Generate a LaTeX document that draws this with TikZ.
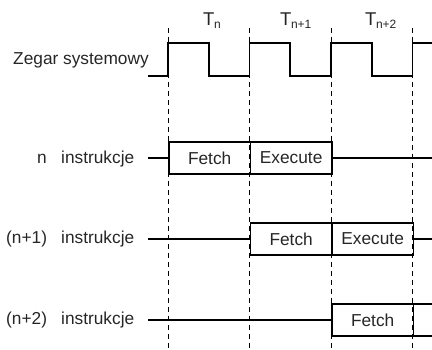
\documentclass[tikz,border=0pt]{standalone}
\usepackage{fontspec}
\setmainfont{Liberation Sans}
\newcommand{\Tsub}[1]{{\fontsize{18.5}{20}\selectfont T}\kern-0.5pt\raisebox{-3.5pt}{\fontsize{12}{12}\selectfont #1}}
\begin{document}
\begin{tikzpicture}[x=1pt,y=-1pt,
  every node/.style={font=\fontsize{17.3}{20}\selectfont, text=black!85},
  sig/.style={line width=1.8pt, line join=miter},
  grid/.style={line width=0.9pt, dash pattern=on 5pt off 4pt},
  phase/.style={draw, line width=1.8pt, minimum width=81.5pt, minimum height=32pt, inner sep=0pt, anchor=west},
  lab/.style={anchor=base west, inner sep=0pt}
]
\clip (0,0) rectangle (432,350);
% dashed cycle boundaries
\foreach \x/\n in {168/a,249.5/b,331/c,412.5/d}{
  \coordinate (top\n) at (\x,28);
  \coordinate (bot\n) at (\x,352);
  \draw[grid] (top\n) -- (bot\n);
}
% T labels
\node[lab] (Tn) at (203,25.5) {\Tsub{n}};
\node[lab] (Tn1) at (280,25.5) {\Tsub{n+1}};
\node[lab] (Tn2) at (365,25.5) {\Tsub{n+2}};
% clock
\node[lab] (clk) at (13,65) {Zegar systemowy};
\coordinate (c0) at (148,76);
\coordinate (c9) at (433,43);
\draw[sig] (c0) -- (168,76) -- (168,43) -- (208.75,43) -- (208.75,76) -- (249.5,76) -- (249.5,43)
  -- (290.25,43) -- (290.25,76) -- (331,76) -- (331,43) -- (371.75,43) -- (371.75,76)
  -- (412.5,76) -- (412.5,43) -- (c9);
% row n
\node[lab] (ln) at (37,163.5) {n};
\node[lab] (li0) at (61,163.5) {instrukcje};
\node[phase] (f0) at (168,158) {Fetch};
\node[phase] (e0) at (249.5,158) {Execute};
\coordinate (s0) at (148,158);
\coordinate (t0) at (433,158);
\draw[sig] (s0) -- (f0.west);
\draw[sig] (e0.east) -- (t0);
% row n+1
\node[lab] (ln1) at (6,244) {(n+1)};
\node[lab] (li1) at (61,244) {instrukcje};
\node[phase] (f1) at (249.5,239) {Fetch};
\node[phase] (e1) at (331,239) {Execute};
\coordinate (s1) at (148,239);
\coordinate (t1) at (433,239);
\draw[sig] (s1) -- (f1.west);
\draw[sig] (e1.east) -- (t1);
% row n+2
\node[lab] (ln2) at (6,325) {(n+2)};
\node[lab] (li2) at (61,325) {instrukcje};
\node[phase] (f2) at (331,320) {Fetch};
\node[phase] (e2) at (412.5,320) {};
\coordinate (s2) at (148,320);
\draw[sig] (s2) -- (f2.west);
\end{tikzpicture}
\end{document}
